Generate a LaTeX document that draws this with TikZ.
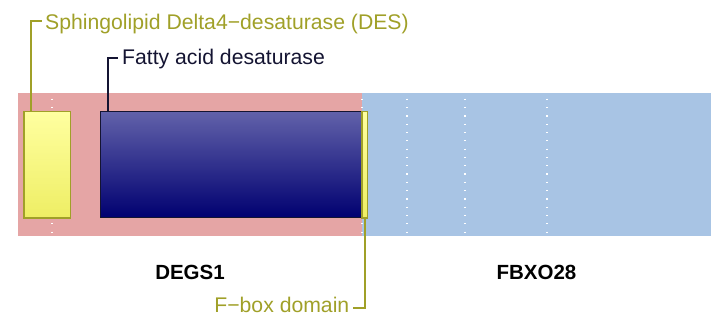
\documentclass[tikz,border=0pt]{standalone}
\usepackage{fontspec}
\setmainfont{Liberation Sans}

\definecolor{degspink}{RGB}{229,165,165}
\definecolor{fbxoblue}{RGB}{168,196,228}
\definecolor{oliveline}{RGB}{160,160,40}
\definecolor{yellowtop}{RGB}{255,255,160}
\definecolor{yellowbot}{RGB}{238,238,100}
\definecolor{navytop}{RGB}{98,98,170}
\definecolor{navybot}{RGB}{0,0,112}
\definecolor{navyline}{RGB}{20,20,50}

\begin{document}
\begin{tikzpicture}[x=1pt, y=-1pt]
    \tikzset{dombox/.style={rectangle, minimum height=106.6pt, inner sep=0pt, anchor=north west}}
    \tikzset{yellowdom/.style={draw=oliveline, line width=1.3pt, top color=yellowtop, bottom color=yellowbot}}
    \tikzset{navydom/.style={draw=navyline, line width=1pt, top color=navytop, bottom color=navybot}}
    \tikzset{gridline/.style={white, line width=1.2pt, dash pattern=on 1.2pt off 7.1pt}}
    \tikzset{pointer/.style={line width=1.7pt}}
    \tikzset{lbl/.style={inner sep=0pt, font=\fontsize{21.2}{25}\selectfont}}
    \tikzset{genelbl/.style={inner sep=0pt, anchor=base, font=\fontsize{20.5}{25}\selectfont\bfseries}}

    \useasboundingbox (0,0) rectangle (719,326);

    % ── GENES ────────────────────────────────────────────
    \fill[degspink] (18,93) rectangle (362,236);
    \fill[fbxoblue] (362,93) rectangle (711,236);

    % linee punteggiate
    \foreach \xx in {52,362,407,465,547} {
        \draw[gridline] (\xx,98.7) -- (\xx,233);
    }

    % ── DOMAINS ──────────────────────────────────────────
    \node[dombox, navydom, minimum width=261.7pt] (fad) at (100.3,110.7) {};
    \node[dombox, yellowdom, minimum width=5.4pt] (fbox) at (361.3,110.7) {};
    \node[dombox, yellowdom, minimum width=46.4pt] (des) at (23.3,110.7) {};

    % ── LABELS ───────────────────────────────────────────
    \node[lbl, anchor=base west, text=oliveline] (deslbl) at (45,30) {Sphingolipid Delta4−desaturase (DES)};
    \node[lbl, anchor=base west, text=navyline] (fadlbl) at (122,65) {Fatty acid desaturase};
    \node[lbl, anchor=base east, text=oliveline] (fboxlbl) at (349.5,312.5) {F−box domain};

    \draw[pointer, oliveline] ([xshift=7.7pt]des.north west) |- ([xshift=-3.5pt, yshift=9pt]deslbl.base west);
    \draw[pointer, navyline] ([xshift=8pt]fad.north west) |- ([xshift=-4pt, yshift=6.7pt]fadlbl.base west);
    \draw[pointer, oliveline] (fbox.south) |- ([xshift=3pt, yshift=4.8pt]fboxlbl.base east);

    \node[genelbl] (degs) at (190,279.5) {DEGS1};
    \node[genelbl] (fbxo) at (536.5,279.5) {FBXO28};

\end{tikzpicture}
\end{document}
